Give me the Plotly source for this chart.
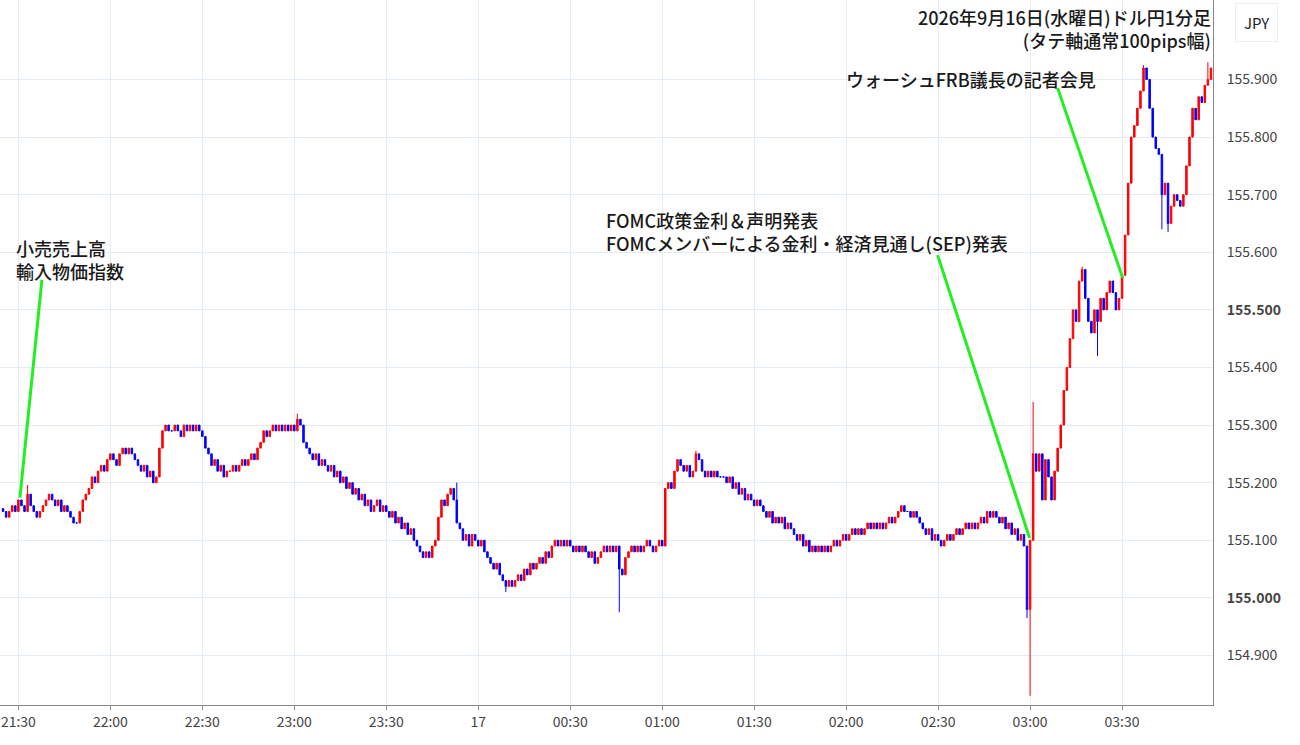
import plotly.graph_objects as go
import pandas as pd

start = "2026-09-16 21:25"
closes = [
155.15,155.14,155.15,155.16,155.15,
155.17,155.16,155.15,155.18,155.16,155.15,155.14,155.15,155.16,155.17,
155.18,155.17,155.16,155.17,155.15,155.16,155.15,155.14,155.13,155.13,
155.15,155.17,155.18,155.19,155.21,155.20,155.22,155.23,155.22,155.24,
155.25,155.24,155.23,155.25,155.26,155.25,155.26,155.25,155.24,155.23,
155.22,155.23,155.21,155.22,155.20,155.21,155.26,155.29,155.30,155.29,
155.29,155.30,155.29,155.28,155.30,155.29,155.30,155.29,155.30,155.29,
155.28,155.26,155.25,155.23,155.24,155.22,155.23,155.21,155.22,155.22,
155.23,155.22,155.23,155.24,155.23,155.24,155.25,155.24,155.26,155.27,
155.29,155.28,155.29,155.30,155.29,155.30,155.29,155.30,155.29,155.30,
155.29,155.31,155.30,155.27,155.26,155.25,155.24,155.25,155.23,155.24,
155.23,155.22,155.23,155.21,155.22,155.20,155.21,155.19,155.20,155.18,
155.19,155.17,155.18,155.16,155.17,155.15,155.16,155.17,155.15,155.16,
155.15,155.14,155.15,155.13,155.14,155.12,155.13,155.11,155.12,155.10,
155.09,155.08,155.07,155.08,155.07,155.09,155.10,155.14,155.17,155.16,
155.18,155.19,155.17,155.13,155.12,155.10,155.11,155.09,155.11,155.10,
155.09,155.10,155.08,155.07,155.06,155.05,155.06,155.04,155.03,155.02,
155.03,155.02,155.03,155.04,155.03,155.05,155.04,155.06,155.05,155.06,
155.07,155.06,155.08,155.07,155.09,155.10,155.09,155.10,155.09,155.10,
155.09,155.08,155.09,155.08,155.09,155.08,155.07,155.08,155.06,155.07,
155.08,155.09,155.08,155.09,155.08,155.09,155.05,155.04,155.07,155.08,
155.09,155.08,155.09,155.08,155.09,155.10,155.09,155.08,155.09,155.10,
155.09,155.19,155.20,155.19,155.22,155.24,155.23,155.22,155.23,155.21,
155.22,155.25,155.24,155.22,155.21,155.22,155.21,155.22,155.21,155.21,
155.21,155.20,155.21,155.19,155.20,155.18,155.19,155.17,155.18,155.17,
155.16,155.17,155.16,155.15,155.14,155.15,155.13,155.14,155.13,155.14,
155.12,155.13,155.12,155.11,155.10,155.11,155.09,155.10,155.08,155.09,
155.08,155.09,155.08,155.09,155.08,155.09,155.10,155.09,155.10,155.11,
155.10,155.11,155.12,155.11,155.12,155.11,155.12,155.13,155.12,155.13,
155.12,155.13,155.12,155.13,155.14,155.13,155.14,155.15,155.16,155.15,
155.15,155.14,155.15,155.14,155.13,155.12,155.11,155.12,155.10,155.11,
155.10,155.09,155.10,155.11,155.10,155.11,155.12,155.11,155.12,155.13,
155.12,155.13,155.12,155.13,155.14,155.13,155.15,155.14,155.15,155.14,
155.13,155.14,155.12,155.13,155.11,155.12,155.10,155.11,155.09,154.98,
155.10,155.25,155.22,155.25,155.17,155.24,155.21,155.17,155.22,155.26,
155.30,155.36,155.40,155.45,155.50,155.48,155.55,155.57,155.52,155.48,
155.46,155.50,155.48,155.52,155.50,155.53,155.55,155.53,155.50,155.52,
155.56,155.63,155.72,155.80,155.82,155.85,155.88,155.92,155.90,155.85,
155.80,155.78,155.77,155.70,155.72,155.65,155.68,155.70,155.69,155.68,
155.70,155.75,155.80,155.85,155.83,155.87,155.86,155.89,155.90,155.92,
]
first_open = 155.155
wick_high = {"21:33": 155.196, "23:53": 155.20, "03:01": 155.34, "03:17": 155.575,
             "03:37": 155.925, "01:11": 155.255, "23:01": 155.32, "03:58": 155.93}
wick_low = {"03:00": 154.83, "00:46": 154.975, "02:59": 154.965, "03:22": 155.42,
            "03:45": 155.635, "03:43": 155.64, "00:09": 155.01}

times = pd.date_range(start, periods=len(closes), freq="1min")
opens = [first_open] + closes[:-1]
highs, lows = [], []
for t, o, c in zip(times, opens, closes):
    k = t.strftime("%H:%M")
    highs.append(wick_high.get(k, max(o, c)))
    lows.append(wick_low.get(k, min(o, c)))

fig = go.Figure(go.Candlestick(
    x=times, open=opens, high=highs, low=lows, close=closes,
    increasing=dict(line=dict(color="#ff0000", width=1), fillcolor="#ff0000"),
    decreasing=dict(line=dict(color="#0000ff", width=1), fillcolor="#0000ff"),
    whiskerwidth=0, hoverinfo="skip"))

tick_times = pd.date_range("2026-09-16 21:30", "2026-09-17 04:00", freq="30min")
tick_text = ["17" if t.hour == 0 and t.minute == 0 else t.strftime("%H:%M") for t in tick_times]
yvals = [154.9 + 0.1 * i for i in range(11)]
ytext = [("<b>%.3f</b>" if abs(v - 155.0) < 1e-6 or abs(v - 155.5) < 1e-6 else "%.3f") % v for v in yvals]

green = "#22ee22"
lines = [
    ("2026-09-16 21:37:40", 155.552, "2026-09-16 21:30:30", 155.174),
    ("2026-09-17 02:29:50", 155.595, "2026-09-17 02:59:50", 155.104),
    ("2026-09-17 03:09:00", 155.885, "2026-09-17 03:30:10", 155.556),
]
for x0, y0, x1, y1 in lines:
    fig.add_shape(type="line", x0=x0, y0=y0, x1=x1, y1=y1, xref="x", yref="y",
                  line=dict(color=green, width=3))

tf = dict(size=18, color="#1a1a1a", weight=500)
fig.add_annotation(x=14/1213, y=1-233/705, xref="paper", yref="paper", xanchor="left", yanchor="top",
                   text="小売売上高<br>輸入物価指数", showarrow=False, align="left", font=tf)
fig.add_annotation(x=604/1213, y=1-205/705, xref="paper", yref="paper", xanchor="left", yanchor="top",
                   text="FOMC政策金利＆声明発表<br>FOMCメンバーによる金利・経済見通し(SEP)発表",
                   showarrow=False, align="left", font=tf)
fig.add_annotation(x=844/1213, y=1-64/705, xref="paper", yref="paper", xanchor="left", yanchor="top",
                   text="ウォーシュFRB議長の記者会見", showarrow=False, align="left", font=tf)
fig.add_annotation(x=1, y=1, xref="paper", yref="paper", xanchor="right", yanchor="top",
                   text="2026年9月16日(水曜日)ドル円1分足<br>(タテ軸通常100pips幅)",
                   showarrow=False, align="right", font=tf, yshift=-2)
fig.add_annotation(x=1+43/1213, y=1-22/705, xref="paper", yref="paper", xanchor="center", yanchor="middle",
                   text="JPY", showarrow=False, font=dict(size=15, color="#222222"),
                   bordercolor="#eeeeee", borderwidth=1, borderpad=8, bgcolor="white")

fig.update_layout(
    width=1300, height=745, margin=dict(l=0, r=87, t=0, b=40, autoexpand=False),
    paper_bgcolor="white", plot_bgcolor="white", showlegend=False,
    font=dict(family="Noto Sans CJK JP, Noto Sans", color="#333333"),
    xaxis=dict(rangeslider=dict(visible=False), range=["2026-09-16 21:24", "2026-09-17 03:59:40"],
               tickvals=tick_times, ticktext=tick_text, showgrid=True, gridcolor="#e3ecf4",
               showline=True, linecolor="#888888", ticks="outside", ticklen=4, tickcolor="#888888",
               tickfont=dict(size=14, color="#444444"), zeroline=False),
    yaxis=dict(side="right", range=[154.814, 156.038], tickvals=yvals, ticktext=ytext,
               showgrid=True, gridcolor="#e3ecf4", showline=True, linecolor="#888888",
               ticks="", tickfont=dict(size=14, color="#444444"), zeroline=False, ticklabelstandoff=10),
)
fig.write_html("out.html", config={"displayModeBar": False})
with open("out.html", encoding="utf-8") as f:
    html = f.read()
html = html.replace("<body>", '<body style="margin:0;overflow:hidden">', 1)
with open("out.html", "w", encoding="utf-8") as f:
    f.write(html)
